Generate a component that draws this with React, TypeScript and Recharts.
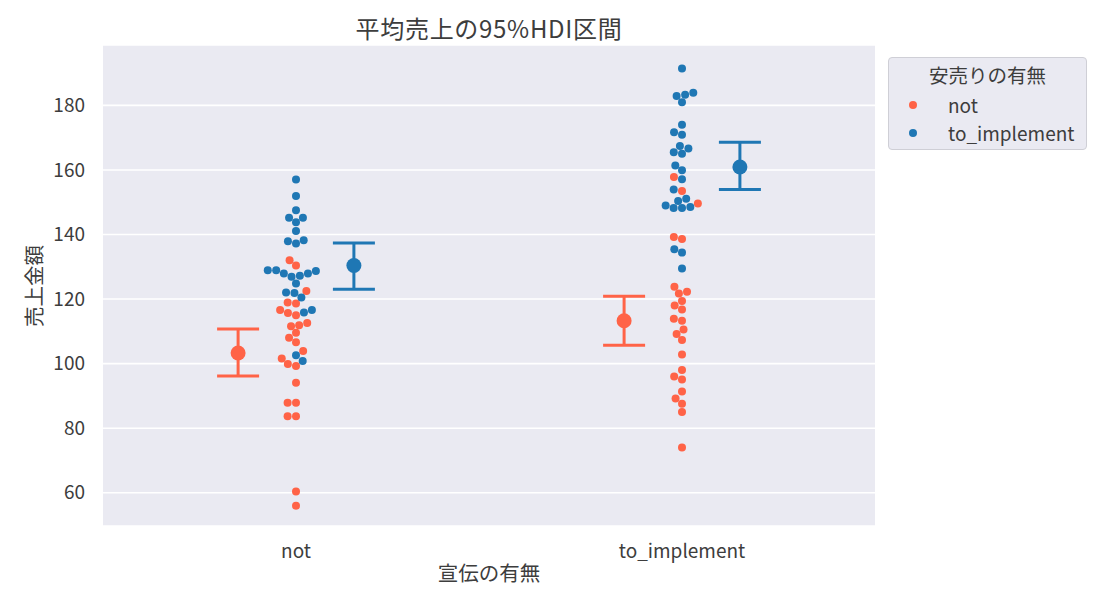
import React from "react";
import {
  ScatterChart,
  Scatter,
  XAxis,
  YAxis,
  CartesianGrid,
  ErrorBar,
  Legend,
} from "recharts";

// 宣伝の有無 categories and 安売りの有無 hue levels
const categories = ["not", "to_implement"];
const hueNames = ["not", "to_implement"];

// 売上金額 per group
const adNotSaleNot = [
  132.0, 130.4, 122.5, 118.6, 118.9, 116.6, 115.7, 115.0, 111.6, 111.9, 112.6,
  109.6, 108.0, 106.6, 103.9, 101.6, 99.9, 99.3, 94.1, 87.9, 87.9, 83.7, 83.7,
  60.4, 56.0,
];
const adNotSaleImpl = [
  157.0, 151.9, 147.5, 145.2, 145.2, 143.8, 141.1, 137.9, 137.2, 138.2, 128.9,
  127.9, 126.9, 128.7, 127.2, 127.9, 128.9, 124.8, 121.9, 122.0, 120.5, 115.8,
  116.6, 102.6, 100.8,
];
const adImplSaleNot = [
  157.8, 153.5, 149.6, 139.2, 138.6, 123.8, 121.7, 122.3, 119.4, 118.0, 116.8,
  113.3, 113.9, 110.6, 109.2, 107.3, 102.8, 98.0, 96.0, 95.1, 91.4, 89.2, 87.6,
  85.0, 74.0,
];
const adImplSaleImpl = [
  191.4, 182.9, 183.3, 183.9, 181.0, 174.0, 171.7, 170.9, 167.4, 165.5, 165.0,
  166.6, 161.4, 159.9, 157.1, 153.9, 151.1, 150.4, 149.0, 148.2, 148.2, 148.5,
  135.4, 134.4, 129.5,
];

// mean and 95% HDI per category, for each hue
const meanSaleNot = [103.3, 113.3];
const lowSaleNot = [96.2, 105.7];
const highSaleNot = [110.7, 120.9];
const meanSaleImpl = [130.4, 160.9];
const lowSaleImpl = [123.0, 153.9];
const highSaleImpl = [137.4, 168.6];

const yTicks = [60, 80, 100, 120, 140, 160, 180];

const RED = "#FF6347";
const BLUE = "#1F77B4";
const FONT = "'Noto Sans CJK JP', 'Noto Sans', sans-serif";
const TEXT = "#3d3d3d";

const W = 1102;
const H = 606;
const M = { top: 45, right: 227, left: 0, bottom: 0 };
const Y_W = 103;
const X_H = 80;
const X_DOMAIN: [number, number] = [-0.5, 1.5];
const Y_DOMAIN: [number, number] = [49.7, 198.7];
const plotW = W - M.left - M.right - Y_W;
const plotH = H - M.top - M.bottom - X_H;
const pxPerCat = plotW / (X_DOMAIN[1] - X_DOMAIN[0]);
const pxPerUnit = plotH / (Y_DOMAIN[1] - Y_DOMAIN[0]);
const R = 4;
const DODGE = 0.15;

// seaborn-style beeswarm in pixel space, returns x offsets in px
function swarm(values: number[]): number[] {
  const order = values.map((_, i) => i).sort((a, b) => values[a] - values[b]);
  const placed: { x: number; y: number }[] = [];
  const out = new Array(values.length).fill(0);
  for (const i of order) {
    const y = values[i] * pxPerUnit;
    const nb: { x: number; y: number }[] = [];
    for (let j = placed.length - 1; j >= 0; j--) {
      if (y - placed[j].y < 2 * R) nb.unshift(placed[j]);
      else break;
    }
    const cands = [0];
    let leftFirst = true;
    for (const n of nb) {
      const dy = y - n.y;
      const dx = Math.sqrt(Math.max(4 * R * R - dy * dy, 0)) * 1.05;
      if (leftFirst) cands.push(n.x - dx, n.x + dx);
      else cands.push(n.x + dx, n.x - dx);
      leftFirst = !leftFirst;
    }
    const sorted = cands
      .map((c, k) => ({ c, k }))
      .sort((a, b) => Math.abs(a.c) - Math.abs(b.c) || a.k - b.k)
      .map((o) => o.c);
    let x = sorted[0];
    for (const c of sorted) {
      const ok = nb.every((n) => (n.x - c) ** 2 + (n.y - y) ** 2 >= 4 * R * R);
      if (ok) {
        x = c;
        break;
      }
    }
    placed.push({ x, y });
    out[i] = x;
  }
  return out;
}

function buildSwarm(cat: number, saleNot: number[], saleImpl: number[]) {
  const all = [...saleNot, ...saleImpl];
  const off = swarm(all);
  return all.map((v, i) => ({
    x: cat + off[i] / pxPerCat,
    y: v,
    hue: i < saleNot.length ? 0 : 1,
  }));
}

const swarmPts = [
  ...buildSwarm(0, adNotSaleNot, adNotSaleImpl),
  ...buildSwarm(1, adImplSaleNot, adImplSaleImpl),
];
const redPts = swarmPts.filter((p) => p.hue === 0);
const bluePts = swarmPts.filter((p) => p.hue === 1);

const redMeans = categories.map((_, i) => ({
  x: i - DODGE,
  y: meanSaleNot[i],
  err: [meanSaleNot[i] - lowSaleNot[i], highSaleNot[i] - meanSaleNot[i]],
}));
const blueMeans = categories.map((_, i) => ({
  x: i + DODGE,
  y: meanSaleImpl[i],
  err: [meanSaleImpl[i] - lowSaleImpl[i], highSaleImpl[i] - meanSaleImpl[i]],
}));

const dot = (color: string, r: number) => (p: any) =>
  <circle cx={p.cx} cy={p.cy} r={r} fill={color} />;

function LegendBox() {
  return (
    <div
      style={{
        width: 197,
        height: 91,
        border: "1px solid #cfcfd6",
        borderRadius: 4,
        background: "#EAEAF2",
        fontFamily: FONT,
        color: TEXT,
        position: "relative",
      }}
    >
      <div style={{ position: "absolute", left: 0, width: 197, top: 4, textAlign: "center", fontSize: 19.5, lineHeight: "26px" }}>
        安売りの有無
      </div>
      {hueNames.map((h, i) => (
        <div key={h} style={{ position: "absolute", left: 0, top: 34 + i * 28, height: 26, display: "flex", alignItems: "center" }}>
          <span style={{ display: "inline-block", width: 8, height: 8, borderRadius: 4, background: i === 0 ? RED : BLUE, marginLeft: 20 }} />
          <span style={{ marginLeft: 31, fontSize: 19, lineHeight: "26px" }}>{h}</span>
        </div>
      ))}
    </div>
  );
}

export default function App() {
  const tickStyle = { fill: TEXT, fontSize: 19, fontFamily: FONT };
  return (
    <div style={{ position: "absolute", left: 0, top: 0, width: W, height: H, background: "#fff" }}>
      <div style={{ position: "absolute", left: 0, width: 2 * 489, top: 13, textAlign: "center", fontFamily: FONT, fontSize: 24, letterSpacing: 0.7, lineHeight: "30px", color: TEXT }}>
        平均売上の95%HDI区間
      </div>
      <div style={{ position: "absolute", left: 0, width: 2 * 489, top: 558, textAlign: "center", fontFamily: FONT, fontSize: 20.5, lineHeight: "28px", color: TEXT }}>
        宣伝の有無
      </div>
      <div style={{ position: "absolute", left: 33, top: 286, transform: "translate(-50%, -50%) rotate(-90deg)", whiteSpace: "nowrap", fontFamily: FONT, fontSize: 20.5, lineHeight: "28px", color: TEXT }}>
        売上金額
      </div>
      <ScatterChart width={W} height={H} margin={M}>
        <CartesianGrid fill="#EAEAF2" stroke="#ffffff" strokeWidth={1.6} vertical={false} />
        <XAxis
          type="number"
          dataKey="x"
          domain={X_DOMAIN}
          ticks={[0, 1]}
          tickFormatter={(v: number) => categories[v]}
          allowDataOverflow
          axisLine={false}
          tickLine={false}
          tickSize={0}
          tickMargin={19}
          height={X_H}
          tick={tickStyle}
          interval={0}
        />
        <YAxis
          type="number"
          dataKey="y"
          domain={Y_DOMAIN}
          ticks={yTicks}
          allowDataOverflow
          axisLine={false}
          tickLine={false}
          tickSize={0}
          tickMargin={18}
          width={Y_W}
          tick={tickStyle}
          interval={0}
        />
        <Legend
          layout="vertical"
          align="center"
          verticalAlign="middle"
          wrapperStyle={{ left: 888, top: 57, width: 199, height: 93 }}
          content={() => <LegendBox />}
        />
        <Scatter data={redPts} shape={dot(RED, R)} isAnimationActive={false} />
        <Scatter data={bluePts} shape={dot(BLUE, R)} isAnimationActive={false} />
        <Scatter data={redMeans} shape={dot(RED, 7.5)} isAnimationActive={false}>
          <ErrorBar dataKey="err" direction="y" width={21} stroke={RED} strokeWidth={3} isAnimationActive={false} />
        </Scatter>
        <Scatter data={blueMeans} shape={dot(BLUE, 7.5)} isAnimationActive={false}>
          <ErrorBar dataKey="err" direction="y" width={21} stroke={BLUE} strokeWidth={3} isAnimationActive={false} />
        </Scatter>
      </ScatterChart>
    </div>
  );
}
